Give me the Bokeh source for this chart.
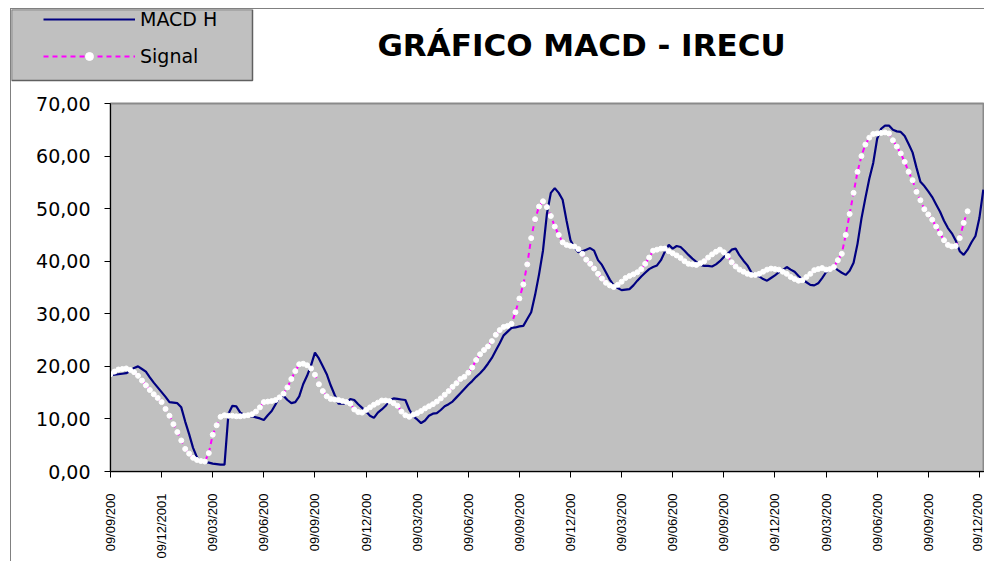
import math
from bokeh.plotting import figure
from bokeh.layouts import column
from bokeh.models import Range1d, FixedTicker, Legend, LegendItem, Label
from bokeh.embed import file_html
from bokeh.resources import INLINE

macd_h = [
    18.3, 18.4, 18.5, 18.6, 18.7, 19.1, 19.7, 20.0, 19.5, 19.0,
    17.9, 16.9, 16.0, 15.1, 14.2, 13.2, 13.1, 13.0, 12.2, 9.5,
    7.1, 4.5, 2.7, 1.9, 1.8, 1.7, 1.5, 1.4, 1.3, 1.3,
    11.0, 12.5, 12.4, 11.2, 10.8, 10.6, 10.5, 10.3, 10.1, 9.8,
    10.7, 11.5, 12.8, 14.2, 14.4, 13.6, 13.0, 13.2, 14.3, 16.6,
    18.2, 20.2, 22.6, 21.5, 20.0, 18.5, 16.4, 14.6, 12.9, 12.9,
    12.9, 13.8, 13.6, 12.8, 12.1, 11.4, 10.6, 10.2, 11.2, 11.8,
    12.5, 13.6, 13.9, 13.8, 13.7, 13.6, 11.8, 10.5, 9.9, 9.2,
    9.7, 10.6, 11.0, 11.1, 11.7, 12.4, 12.8, 13.3, 14.1, 14.9,
    15.7, 16.5, 17.2, 18.0, 18.7, 19.5, 20.5, 21.6, 23.0, 24.4,
    25.9, 26.6, 27.3, 27.4, 27.6, 27.7, 29.0, 30.3, 33.6, 37.5,
    42.0, 49.0, 53.0, 53.9, 53.0, 51.7, 47.7, 44.0, 42.6, 41.7,
    41.9, 42.2, 42.5, 42.0, 40.2, 39.3, 37.9, 36.5, 35.4, 34.9,
    34.5, 34.6, 34.7, 35.4, 36.3, 37.1, 37.8, 38.5, 38.9, 39.2,
    40.2, 41.8, 43.1, 42.4, 42.9, 42.7, 42.0, 41.2, 40.5, 39.9,
    39.3, 39.1, 39.1, 39.0, 39.4, 40.0, 40.8, 41.4, 42.2, 42.4,
    41.1, 40.1, 39.2, 37.9, 37.3, 37.1, 36.6, 36.3, 36.8, 37.3,
    37.9, 38.3, 38.9, 38.4, 38.0, 37.2, 36.5, 36.0, 35.5, 35.4,
    35.8, 36.8, 37.9, 38.7, 38.9, 38.3, 37.8, 37.4, 38.2, 39.7,
    43.3, 48.1, 52.0, 55.7, 58.7, 63.3, 65.2, 65.8, 65.8, 65.0,
    64.7, 64.6, 63.8, 62.3, 60.7, 57.8, 55.1, 54.3, 53.3, 52.2,
    50.8, 49.4, 47.7, 46.3, 45.3, 43.9, 41.9, 41.2, 42.2, 43.6,
    44.8, 48.2, 53.6,
]

signal = [
    18.5, 19.0, 19.4, 19.5, 19.6, 19.3, 18.9, 18.2, 17.3, 16.4,
    15.5, 14.7, 14.0, 13.2, 11.9, 10.6, 9.0, 7.5, 5.9, 4.3,
    3.4, 2.6, 2.2, 2.0, 1.9, 3.5, 7.0, 8.8, 10.4, 10.7,
    10.6, 10.6, 10.5, 10.5, 10.6, 10.7, 10.9, 11.4, 12.2, 13.2,
    13.3, 13.4, 13.6, 14.1, 14.8, 16.0, 17.6, 19.1, 20.4, 20.5,
    20.2, 19.6, 18.4, 16.6, 15.3, 14.3, 13.8, 13.7, 13.6, 13.4,
    13.2, 12.9, 11.8, 11.3, 11.2, 11.7, 12.2, 12.7, 13.1, 13.5,
    13.5, 13.4, 13.0, 12.5, 11.4, 10.7, 10.4, 10.8, 11.1, 11.5,
    12.0, 12.4, 12.8, 13.3, 13.9, 14.6, 15.3, 16.1, 16.8, 17.6,
    18.0, 18.8, 19.8, 21.2, 22.3, 23.1, 23.8, 24.8, 26.0, 26.9,
    27.5, 27.7, 28.1, 30.3, 32.9, 35.6, 39.4, 44.4, 48.0, 50.4,
    51.4, 50.3, 48.6, 46.6, 45.0, 43.6, 43.1, 42.9, 42.8, 42.3,
    41.4, 40.3, 39.5, 38.6, 37.6, 36.7, 35.9, 35.4, 35.1, 35.5,
    36.1, 36.8, 37.2, 37.5, 37.9, 38.5, 39.5, 40.7, 42.0, 42.2,
    42.4, 42.4, 41.9, 41.5, 41.1, 40.6, 40.0, 39.5, 39.4, 39.3,
    39.6, 40.0, 40.7, 41.3, 41.8, 42.2, 41.7, 41.0, 39.8, 39.0,
    38.4, 38.0, 37.6, 37.4, 37.4, 37.6, 38.0, 38.4, 38.6, 38.5,
    38.4, 38.0, 37.6, 37.0, 36.6, 36.3, 36.4, 37.0, 37.6, 38.3,
    38.5, 38.7, 38.4, 38.5, 38.9, 40.2, 41.4, 45.0, 49.0, 53.0,
    57.0, 60.0, 62.2, 63.5, 64.2, 64.3, 64.4, 64.5, 64.3, 63.0,
    61.8, 60.5, 58.9, 57.0, 55.4, 53.2, 51.6, 49.9, 48.9, 47.9,
    46.6, 45.3, 44.0, 43.1, 42.8, 42.9, 44.4, 47.3, 49.5,
]

x_tick_weeks = [0, 13, 26, 39, 52, 65, 78, 91, 104, 117, 130, 143, 156, 169, 182, 195, 208, 221]
x_tick_labels = [
    "09/09/200", "09/12/2001", "09/03/200", "09/06/200", "09/09/200", "09/12/200",
    "09/03/200", "09/06/200", "09/09/200", "09/12/200", "09/03/200", "09/06/200",
    "09/09/200", "09/12/200", "09/03/200", "09/06/200", "09/09/200", "09/12/200",
]
y_ticks = [0, 10, 20, 30, 40, 50, 60, 70]
y_tick_labels = ["0,00", "10,00", "20,00", "30,00", "40,00", "50,00", "60,00", "70,00"]
title_text = "GRÁFICO MACD - IRECU"
series_names = ["MACD H", "Signal"]

MACD_STYLE = dict(line_color="#000080", line_width=2.2)
SIG_LINE_STYLE = dict(line_color="#FF00FF", line_width=2, line_dash="5 4")
SIG_DOT_STYLE = dict(marker="circle", size=5, fill_color="white", line_color="white")

x_macd = list(range(len(macd_h)))
x_sig = list(range(len(signal)))
NAN = float("nan")


def no_frame_align(fig):
    try:
        fig.frame_align = False
    except Exception:
        pass


# ---------------- header (title + legend box) ----------------
hdr = figure(width=973, height=84, output_backend="svg", toolbar_location=None,
             x_range=Range1d(11, 984), y_range=Range1d(93, 9),
             x_axis_location=None, y_axis_location=None, min_border=0)
no_frame_align(hdr)
hdr.outline_line_color = None
hdr.xgrid.visible = False
hdr.ygrid.visible = False
hdr.background_fill_color = "white"
hdr.border_fill_color = "white"

# legend frame (grey box)
hdr.quad(left=[11], right=[252], top=[9], bottom=[80],
         fill_color="#C0C0C0", line_color="#606060", line_width=1.5)

# legend proxies (same styles as the chart series, no visible points)
hl1 = hdr.line([NAN], [NAN], **MACD_STYLE)
hl2 = hdr.line([NAN], [NAN], **SIG_LINE_STYLE)
hl3 = hdr.scatter([NAN], [NAN], **SIG_DOT_STYLE)
legend = Legend(items=[LegendItem(label=series_names[0], renderers=[hl1]),
                       LegendItem(label=series_names[1], renderers=[hl2, hl3])],
                location=(32, 26), padding=0, margin=0, spacing=15,
                glyph_width=92, glyph_height=20, label_height=20, label_standoff=5,
                label_text_font="DejaVu Sans", label_text_font_size="19px",
                label_text_color="black",
                background_fill_alpha=0, border_line_alpha=0)
hdr.add_layout(legend)

hdr.add_layout(Label(x=581, y=44, text=title_text, text_align="center",
                     text_baseline="middle", text_font="DejaVu Sans",
                     text_font_style="bold", text_font_size="31px", text_color="black"))

# ---------------- main chart ----------------
p = figure(width=973, height=468, output_backend="svg", toolbar_location=None,
           x_range=Range1d(0, 222.3), y_range=Range1d(0, 70),
           min_border_left=99, min_border_right=0, min_border_top=10, min_border_bottom=0)
no_frame_align(p)
p.background_fill_color = "#C0C0C0"
p.border_fill_color = "white"
p.outline_line_color = "#8A8A8A"
p.outline_line_width = 2
p.xgrid.visible = False
p.ygrid.visible = False

p.line(x_macd, macd_h, **MACD_STYLE)
p.line(x_sig, signal, **SIG_LINE_STYLE)
p.scatter(x_sig, signal, **SIG_DOT_STYLE)

for ax in (p.xaxis[0], p.yaxis[0]):
    ax.axis_line_color = "black"
    ax.axis_line_width = 1
    ax.major_tick_line_color = "black"
    ax.major_tick_out = 6
    ax.major_tick_in = 0
    ax.minor_tick_line_color = None
    ax.major_label_text_color = "black"

p.xaxis.ticker = FixedTicker(ticks=x_tick_weeks)
p.xaxis.major_label_overrides = {w: s for w, s in zip(x_tick_weeks, x_tick_labels)}
p.xaxis.major_label_orientation = math.pi / 2
p.xaxis.major_label_text_font = "Liberation Sans"
p.xaxis.major_label_text_font_size = "13px"
p.xaxis.major_label_standoff = 16

p.yaxis.ticker = FixedTicker(ticks=y_ticks)
p.yaxis.major_label_overrides = {t: s for t, s in zip(y_ticks, y_tick_labels)}
p.yaxis.major_label_text_font = "DejaVu Sans"
p.yaxis.major_label_text_font_size = "19px"
p.yaxis.major_label_standoff = 14

layout = column(hdr, p, spacing=0, margin=(8, 0, 0, 10),
                styles={"border-left": "1px solid #808080", "border-top": "1px solid #808080"})

open("out.html", "w").write(file_html(layout, INLINE))
